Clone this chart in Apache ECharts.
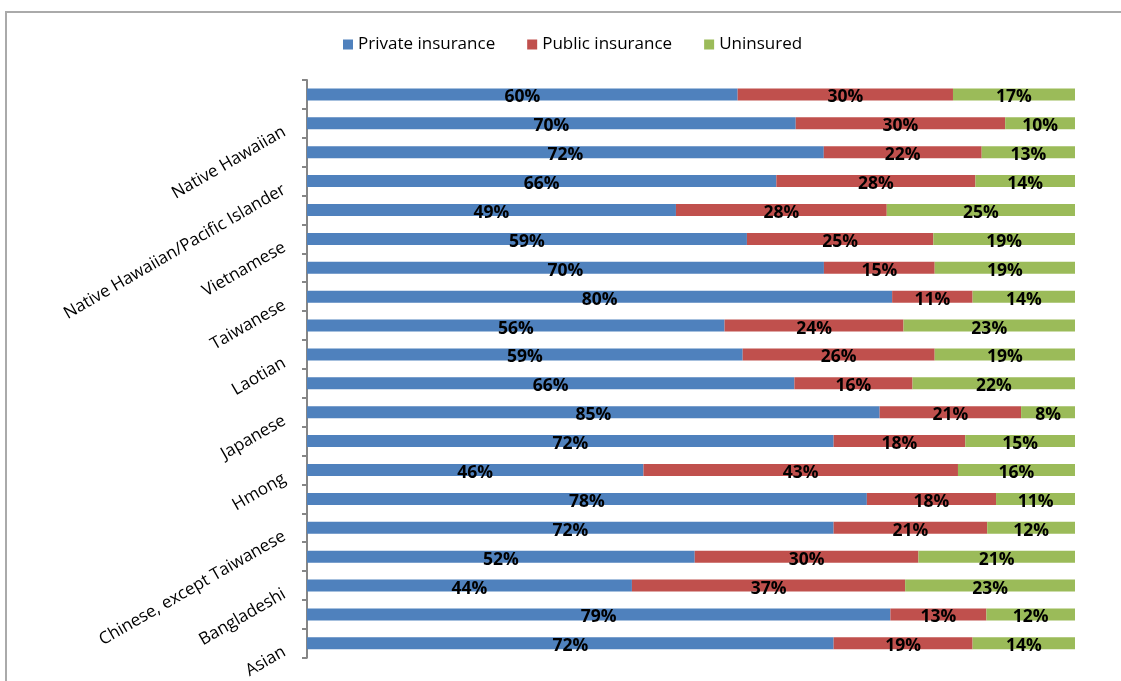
<!DOCTYPE html>
<html>
<head>
<meta charset="utf-8">
<script src="https://cdn.jsdelivr.net/npm/echarts@6/dist/echarts.min.js"></script>
<style>
  html, body { margin: 0; padding: 0; background: #fff; overflow: hidden; }
  #chart { width: 1121px; height: 681px; }
</style>
</head>
<body>
<div id="chart"></div>
<script>
// Groups, listed bottom to top; only every other name is printed on the axis
const groups = [
  'Asian', 'Asian Indian', 'Bangladeshi', 'Cambodian',
  'Chinese, except Taiwanese', 'Filipino', 'Hmong', 'Indonesian',
  'Japanese', 'Korean', 'Laotian', 'Pakistani',
  'Taiwanese', 'Thai', 'Vietnamese', 'Other Asian',
  'Native Hawaiian/Pacific Islander', 'Guamanian or Chamorro', 'Native Hawaiian', 'Samoan'
];

// Share of each group with each coverage type (%)
const privateIns = [72, 79, 44, 52, 72, 78, 46, 72, 85, 66, 59, 56, 80, 70, 59, 49, 66, 72, 70, 60];
const publicIns  = [19, 13, 37, 30, 21, 18, 43, 18, 21, 16, 26, 24, 11, 15, 25, 28, 28, 22, 30, 30];
const uninsured  = [14, 12, 23, 21, 12, 11, 16, 15,  8, 22, 19, 23, 14, 19, 19, 25, 14, 13, 10, 17];

const seriesNames = ['Private insurance', 'Public insurance', 'Uninsured'];
const colors = ['#4F81BD', '#C0504D', '#9BBB59'];

// Each bar spans the full width: segments are scaled by the group's total
const totals = groups.map((_, i) => privateIns[i] + publicIns[i] + uninsured[i]);
const toSeries = (name, values, color) => ({
  name: name,
  type: 'bar',
  stack: 'total',
  barWidth: 12,
  itemStyle: { color: color },
  label: {
    show: true,
    position: 'inside',
    offset: [0, 3],
    color: '#000',
    fontWeight: 'bold',
    fontSize: 17.5,
    fontFamily: 'Open Sans',
    formatter: p => values[p.dataIndex] + '%'
  },
  data: values.map((v, i) => v / totals[i] * 100)
});

const chart = echarts.init(document.getElementById('chart'));
chart.setOption({
  animation: false,
  textStyle: { fontFamily: 'Open Sans' },
  // chart-area frame: left and top edges only
  graphic: [
    {
      type: 'line',
      shape: { x1: 6, y1: 11, x2: 6, y2: 681 },
      style: { stroke: '#aaaaaa', lineWidth: 2 },
      silent: true
    },
    {
      type: 'line',
      shape: { x1: 5, y1: 12, x2: 1121, y2: 12 },
      style: { stroke: '#aaaaaa', lineWidth: 2 },
      silent: true
    }
  ],
  legend: {
    top: 31,
    left: 338,
    icon: 'rect',
    itemWidth: 10,
    itemHeight: 10,
    itemGap: 32,
    textStyle: { fontSize: 17, color: '#000', fontFamily: 'Open Sans' },
    data: seriesNames
  },
  grid: { left: 307, right: 46, top: 80, bottom: 21, containLabel: false },
  xAxis: {
    type: 'value',
    min: 0,
    max: 100,
    show: false
  },
  yAxis: {
    type: 'category',
    data: groups,
    boundaryGap: true,
    axisLine: { show: true, lineStyle: { color: '#868686', width: 2 } },
    axisTick: { show: true, interval: 0, length: 5, lineStyle: { color: '#868686', width: 2 } },
    axisLabel: {
      interval: 1,
      rotate: 30,
      margin: 27,
      verticalAlign: 'top',
      fontSize: 17,
      color: '#000',
      fontFamily: 'Open Sans'
    },
    splitLine: { show: false }
  },
  series: [
    toSeries(seriesNames[0], privateIns, colors[0]),
    toSeries(seriesNames[1], publicIns, colors[1]),
    toSeries(seriesNames[2], uninsured, colors[2])
  ]
});
</script>
</body>
</html>
